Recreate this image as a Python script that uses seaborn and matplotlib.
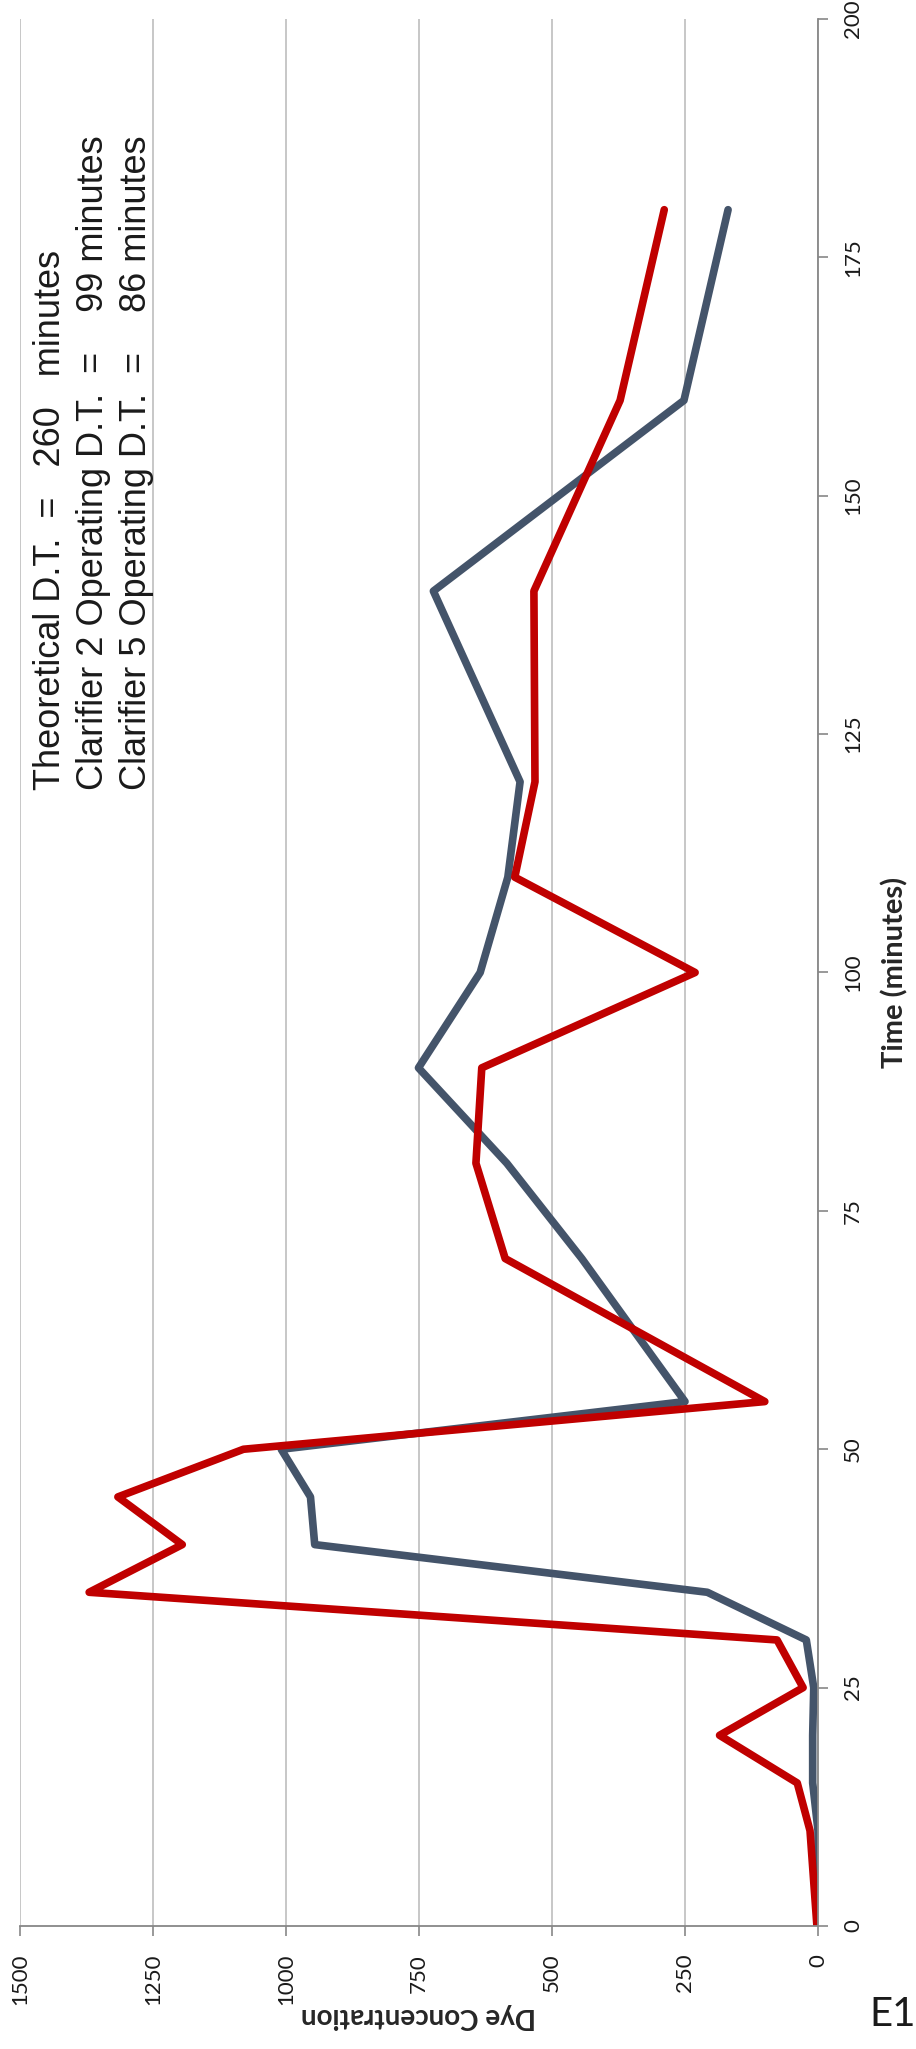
import pandas as pd
import matplotlib
matplotlib.use("Agg")
import matplotlib.pyplot as plt
import seaborn as sns

# dye tracer data
time_min = [0, 10, 15, 20, 25, 30, 35, 40, 45, 50, 55, 70, 80, 90, 100, 110, 120, 140, 160, 180]
clarifier_2 = [0, 0, 10, 10, 8, 22, 208, 946, 954, 1009, 250, 444, 585, 751, 635, 583, 560, 723, 252, 169]
clarifier_5 = [2, 15, 39, 185, 28, 77, 1370, 1195, 1316, 1080, 100, 588, 643, 632, 231, 570, 532, 534, 372, 289]

conc_ticks = [0, 250, 500, 750, 1000, 1250, 1500]
time_ticks = [0, 25, 50, 75, 100, 125, 150, 175, 200]

notes = [
    "Theoretical D.T.  =   260   minutes",
    "Clarifier 2 Operating D.T.  =    99 minutes",
    "Clarifier 5 Operating D.T.  =    86 minutes",
]

df = pd.concat([
    pd.DataFrame({"time": time_min, "conc": clarifier_2, "series": "Clarifier 2"}),
    pd.DataFrame({"time": time_min, "conc": clarifier_5, "series": "Clarifier 5"}),
])

sns.set_theme(style="white")
plt.rcParams["font.family"] = ["Lato", "DejaVu Sans"]

W, H = 916, 2049
fig = plt.figure(figsize=(W / 100, H / 100), dpi=100)
ax = fig.add_axes([20 / W, 1 - 1926 / H, 798 / W, (1926 - 19) / H])

sns.lineplot(data=df, x="conc", y="time", hue="series", orient="y", sort=False,
             palette={"Clarifier 2": "#44546A", "Clarifier 5": "#C00000"},
             linewidth=5.5, solid_capstyle="round", solid_joinstyle="round",
             legend=False, ax=ax)

ax.set_xlim(1500, 0)
ax.set_ylim(0, 200)
ax.set_xticks(conc_ticks)
ax.set_yticks(time_ticks)
ax.grid(axis="x", color="#BDBDBD", linewidth=1.2)
ax.grid(axis="y", visible=False)

for s in ["top", "left"]:
    ax.spines[s].set_visible(False)
for s in ["bottom", "right"]:
    ax.spines[s].set_color("#878787")
    ax.spines[s].set_linewidth(1.3)

ax.yaxis.tick_right()
ax.yaxis.set_label_position("right")
ax.tick_params(axis="both", direction="out", length=7, width=1.2, color="#878787",
               labelsize=16, labelcolor="#1a1a1a")
ax.tick_params(axis="x", bottom=True, labelrotation=90, pad=13)
ax.tick_params(axis="y", right=True, left=False, labelrotation=90, pad=11)
for lab in ax.get_yticklabels():
    lab.set_va("center")

ax.set_ylabel("Time (minutes)", fontsize=21, fontweight="bold", rotation=90,
              ha="center", va="center", rotation_mode="default")
ax.yaxis.set_label_coords((895 - 20) / 798, 0.5)
ax.set_xlabel("Dye Concentration", fontsize=20, fontweight="bold", rotation=180,
              ha="center", va="center", rotation_mode="default")
ax.xaxis.set_label_coords(0.5, (1926 - 2016) / 1907)

for i, txt in enumerate(notes):
    fig.text((33 + 43 * i) / W, 1 - 790 / H, txt, rotation=90, ha="left", va="bottom",
             fontsize=26, family=["Liberation Sans", "DejaVu Sans"], color="#1a1a1a")

fig.text(893 / W, 1 - 2015 / H, "E1", fontsize=29, ha="center", va="center", color="#1a1a1a")

fig.savefig("out.png", dpi=100)
